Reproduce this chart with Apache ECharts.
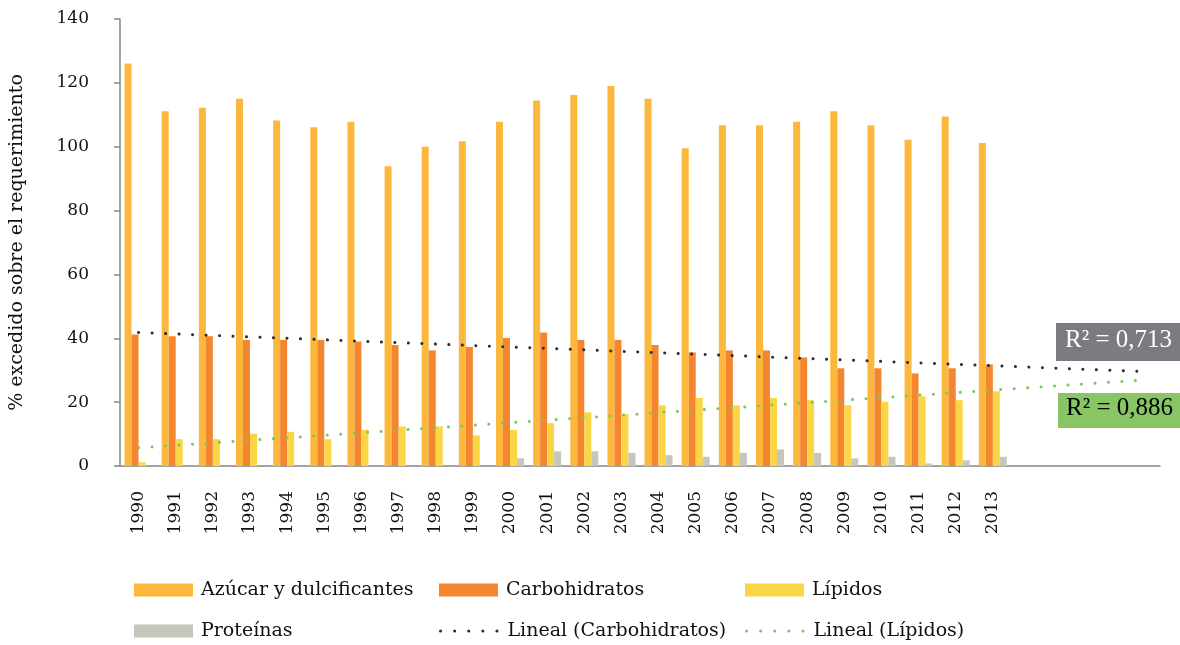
<!DOCTYPE html>
<html>
<head>
<meta charset="utf-8">
<script src="https://cdn.jsdelivr.net/npm/echarts@6/dist/echarts.min.js"></script>
<style>
  html, body { margin: 0; padding: 0; background: #fff; }
  #chart { width: 1180px; height: 645px; }
</style>
</head>
<body>
<div id="chart"></div>
<script>
// years shown on the axis, plus 4 empty slots where the trendlines continue
const years = ['1990', '1991', '1992', '1993', '1994', '1995', '1996', '1997', '1998', '1999',
  '2000', '2001', '2002', '2003', '2004', '2005', '2006', '2007', '2008', '2009',
  '2010', '2011', '2012', '2013'];
const forecastSlots = ['', '', '', ''];

const azucar = [126.1, 111.1, 112.2, 115.0, 108.2, 106.1, 107.8, 93.9, 100.0, 101.7,
  107.8, 114.5, 116.2, 119.0, 115.0, 99.5, 106.7, 106.7, 107.8, 111.1,
  106.7, 102.2, 109.5, 101.2];
const carbohidratos = [41.2, 40.6, 40.6, 39.5, 39.5, 39.5, 39.0, 37.9, 36.2, 37.3,
  40.1, 41.8, 39.5, 39.5, 37.9, 35.6, 36.2, 36.2, 34.0, 30.6,
  30.6, 29.0, 30.6, 31.8];
const lipidos = [1.2, 8.4, 8.4, 10.1, 10.7, 8.4, 11.3, 12.4, 12.4, 9.6,
  11.3, 13.4, 16.8, 16.3, 19.0, 21.3, 19.0, 21.3, 20.6, 19.0,
  20.1, 21.8, 20.6, 23.4];
const proteinas = [0, 0, 0, 0, 0, 0, 0, 0, 0, 0,
  2.4, 4.6, 4.6, 4.1, 3.4, 2.9, 4.1, 5.2, 4.1, 2.4,
  2.9, 0.8, 1.8, 2.9];

// trendline ends (first year and last forecast slot)
const trendCarbo = [41.8, 29.6];
const trendLipidos = [5.7, 26.9];

const yTicks = [0, 20, 40, 60, 80, 100, 120, 140];

const categories = years.concat(forecastSlots);
const FONT = 'DejaVu Serif';

const trendLine = (ends) => {
  const arr = categories.map(() => null);
  arr[0] = ends[0];
  arr[arr.length - 1] = ends[1];
  return arr;
};

const chart = echarts.init(document.getElementById('chart'));

const legendAt = (name, left, top) => {
  const isLine = name.indexOf('Lineal') === 0;
  const lg = {
    data: [name],
    left: left,
    top: top,
    padding: 0,
    itemWidth: 59,
    itemHeight: 13,
    itemGap: 0,
    textStyle: { fontFamily: FONT, fontSize: 19, color: '#111', lineHeight: 22, padding: [0, 0, 0, 3] },
  };
  if (isLine) {
    lg.itemStyle = { opacity: 0 };
    lg.lineStyle = { width: 3, type: [0.1, 14], cap: 'round' };
  } else {
    lg.icon = 'rect';
  }
  return lg;
};

const option = {
  animation: false,
  backgroundColor: '#fff',
  grid: { left: 118, right: 20, top: 19, height: 447 },
  legend: [
    legendAt('Azúcar y dulcificantes', 134, 579),
    legendAt('Carbohidratos', 439, 579),
    legendAt('Lípidos', 745, 579),
    legendAt('Proteínas', 134, 620),
    legendAt('Lineal (Carbohidratos)', 439, 620),
    legendAt('Lineal (Lípidos)', 745, 620),
  ],
  xAxis: {
    type: 'category',
    data: categories,
    axisLine: { lineStyle: { color: '#868686', width: 1.5 } },
    axisTick: { length: 6, lineStyle: { color: '#868686', width: 1.5 } },
    axisLabel: {
      interval: 0,
      rotate: 90,
      margin: 25,
      fontFamily: FONT,
      fontSize: 17,
      color: '#111',
    },
  },
  yAxis: {
    type: 'value',
    min: yTicks[0],
    max: yTicks[yTicks.length - 1],
    interval: yTicks[1] - yTicks[0],
    name: '% excedido sobre el requerimiento',
    nameLocation: 'middle',
    nameGap: 93,
    nameTextStyle: { fontFamily: FONT, fontSize: 19, color: '#111' },
    axisLine: { show: true, lineStyle: { color: '#868686', width: 1.5 } },
    axisTick: { show: true, length: 6, lineStyle: { color: '#868686', width: 1.5 } },
    splitLine: { show: false },
    axisLabel: { margin: 31, fontFamily: FONT, fontSize: 17, color: '#111' },
  },
  series: [
    { name: 'Azúcar y dulcificantes', type: 'bar', data: azucar, barWidth: 7, barGap: '0%',
      itemStyle: { color: '#FCB83C' } },
    { name: 'Carbohidratos', type: 'bar', data: carbohidratos, barWidth: 7, barGap: '0%',
      itemStyle: { color: '#F3862F' } },
    { name: 'Lípidos', type: 'bar', data: lipidos, barWidth: 7, barGap: '0%',
      itemStyle: { color: '#FAD646' } },
    { name: 'Proteínas', type: 'bar', data: proteinas, barWidth: 7, barGap: '0%',
      itemStyle: { color: '#C6C7BC' } },
    { name: 'Lineal (Carbohidratos)', type: 'line', data: trendLine(trendCarbo), connectNulls: true,
      symbol: 'none', z: 5,
      itemStyle: { color: '#2E2E2E' },
      lineStyle: { color: '#2E2E2E', width: 3, type: [0.1, 13.4], cap: 'round' } },
    { name: 'Lineal (Lípidos)', type: 'line', data: trendLine(trendLipidos), connectNulls: true,
      symbol: 'none', z: 5,
      itemStyle: { color: '#7CC85A' },
      lineStyle: { color: '#7CC85A', width: 3, type: [0.1, 13.4], cap: 'round' } },
  ],
  graphic: [
    { type: 'rect', left: 1056, top: 323, shape: { width: 124, height: 38 }, style: { fill: '#7B7C80' }, z: 10 },
    { type: 'text', left: 1065, top: 328, z: 11,
      style: { text: 'R² = 0,713', fill: '#fff', font: '25px "Liberation Serif"' } },
    { type: 'rect', left: 1058, top: 393, shape: { width: 122, height: 35 }, style: { fill: '#87C565' }, z: 10 },
    { type: 'text', left: 1066, top: 396, z: 11,
      style: { text: 'R² = 0,886', fill: '#000', font: '25px "Liberation Serif"' } },
  ],
};

chart.setOption(option);
window.addEventListener('resize', chart.resize);
</script>
</body>
</html>
